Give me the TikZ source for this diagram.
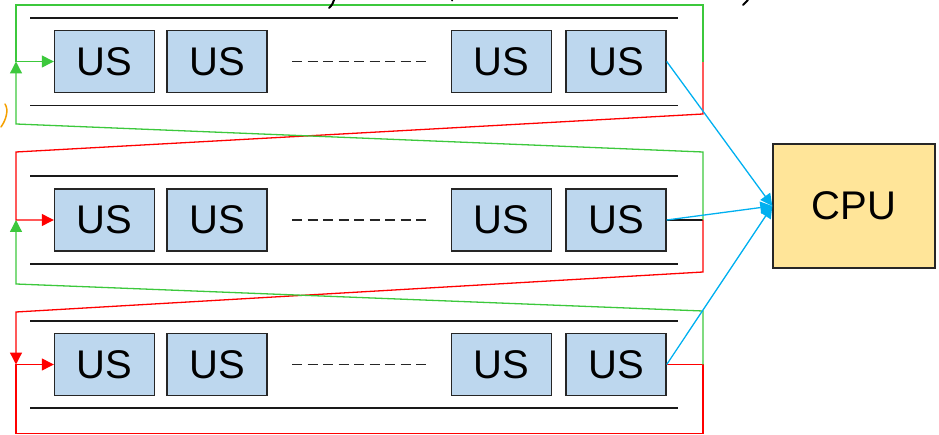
\documentclass[tikz,border=0pt]{standalone}
\usepackage{fontspec}
\setmainfont{Liberation Sans}
\usetikzlibrary{arrows.meta}
\definecolor{usblue}{HTML}{BDD7EE}
\definecolor{cpuyellow}{HTML}{FFE599}
\definecolor{lgreen}{HTML}{3CC83C}
\definecolor{lred}{HTML}{FF0000}
\definecolor{lblue}{HTML}{00B0F0}
\definecolor{hand}{HTML}{F5A000}
\tikzset{
  usbox/.style={draw=black!85, line width=1.4pt, fill=usblue, minimum width=100pt, minimum height=62pt, inner sep=0pt, font=\fontsize{40}{44}\selectfont},
  cpubox/.style={draw=black!85, line width=1.4pt, fill=cpuyellow, minimum width=162pt, minimum height=124pt, inner sep=0pt, font=\fontsize{40}{44}\selectfont},
  railline/.style={draw=black!90, line width=1.8pt},
  dotsline/.style={draw=black!85, line width=1.6pt, dash pattern=on 10pt off 5.5pt},
  gline/.style={draw=lgreen, line width=1.3pt},
  rline/.style={draw=lred, line width=1.3pt},
  bline/.style={draw=lblue, line width=1.3pt},
  tri/.style={-{Triangle[length=12pt,width=12pt]}},
}
\begin{document}
\begin{tikzpicture}[x=1pt,y=-1pt]
\useasboundingbox (0,0) rectangle (939,435);
% rails
\foreach \ya/\yb in {18/105.5, 176/264, 321/408}{
  \draw[railline] (30,\ya) -- (678,\ya);
  \draw[railline] (30,\yb) -- (678,\yb);
}
% boxes
\foreach \r/\y in {1/61.5, 2/220, 3/364.5}{
  \node[usbox] (us\r1) at (104.5,\y) {US};
  \node[usbox] (us\r2) at (217,\y) {US};
  \node[usbox] (us\r3) at (501.5,\y) {US};
  \node[usbox] (us\r4) at (616,\y) {US};
  \draw[dotsline] (292,\y) -- (430,\y);
}
\node[cpubox] (cpu) at (854,206) {CPU};
% junction coordinates
\coordinate (r1) at (703,62);
\coordinate (r2) at (703,220);
\coordinate (r3) at (703,364.5);
\coordinate (l1) at (16,61.5);
\coordinate (l2) at (16,220);
\coordinate (l3) at (16,364.5);
\coordinate (tr) at (703,5);
\coordinate (tl) at (16,5);
\coordinate (g1r) at (703,152);
\coordinate (g1l) at (16,124);
\coordinate (c1r) at (703,114);
\coordinate (c1l) at (16,152);
\coordinate (g2r) at (703,311);
\coordinate (g2l) at (16,284);
\coordinate (c2r) at (703,272);
\coordinate (c2l) at (16,312);
\coordinate (br) at (703,433.5);
\coordinate (bl) at (16,433.5);
% black stub
\draw[black!90, line width=1.6pt] (us24.east) -- (r2);
% red paths
\draw[rline, tri] (r1) -- (c1r) -- (c1l) -- (l2) -- (us21.west);
\draw[rline, tri] (r2) -- (c2r) -- (c2l) -- (l3);
\draw[rline, tri] (us34.east) -- (r3) -- (br) -- (bl) -- (l3) -- (us31.west);
% green paths
\draw[gline, tri] (r1) -- (tr) -- (tl) -- (l1) -- (us11.west);
\draw[gline, tri] (r2) -- (g1r) -- (g1l) -- (l1);
\draw[gline, tri] (r3) -- (g2r) -- (g2l) -- (l2);
% blue to cpu
\draw[bline, tri] (us14.east) -- (cpu.west);
\draw[bline, tri] (us24.east) -- (cpu.west);
\draw[bline, tri] (us34.east) -- (cpu.west);
% handwriting fragments cut by the frame
\draw[black, line width=2pt, line cap=round] (334,0) .. controls (332,5) .. (329,8);
\fill[black] (452,0.5) circle (1pt);
\draw[black, line width=2pt, line cap=round] (748,0) -- (743,5);
\draw[hand, line width=1.5pt, line cap=round] (5,104) .. controls (9,110) and (6,120) .. (1,127);
\end{tikzpicture}
\end{document}
